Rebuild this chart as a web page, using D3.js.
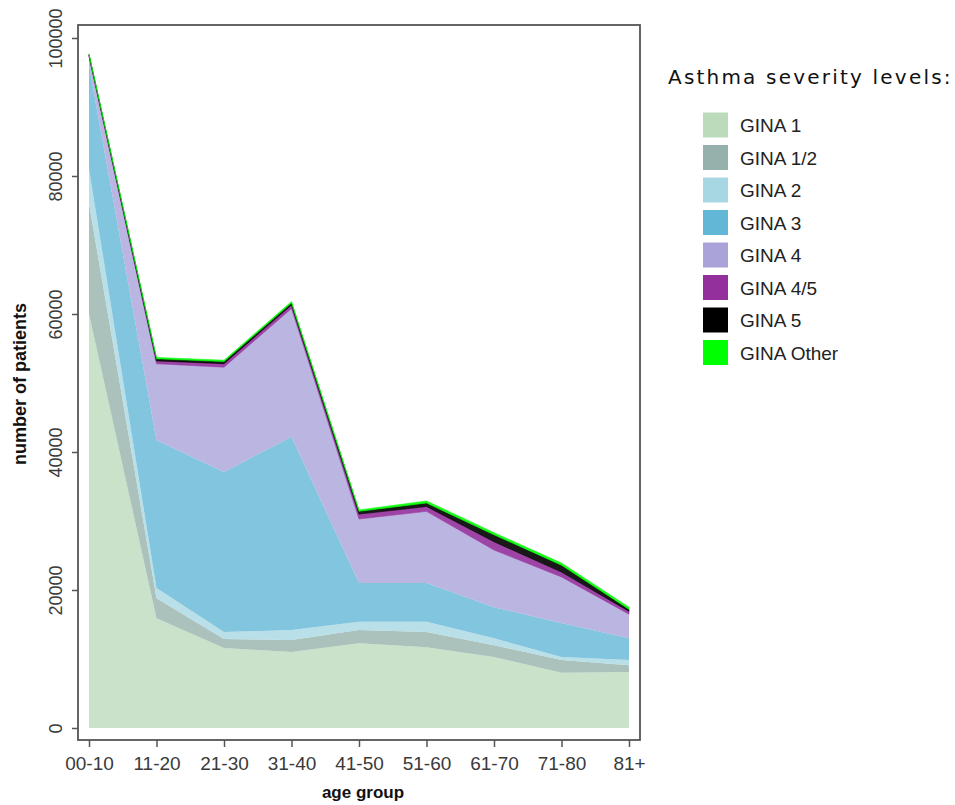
<!DOCTYPE html>
<html>
<head>
<meta charset="utf-8">
<script src="https://cdn.jsdelivr.net/npm/d3@7"></script>
<style>
  body { margin: 0; background: #fff; }
  svg { display: block; }
</style>
</head>
<body>
<script>
// age groups on the x axis
var ageGroups = ["00-10", "11-20", "21-30", "31-40", "41-50", "51-60", "61-70", "71-80", "81+"];

// patients per severity level
var gina1     = [60000, 15900, 11600, 11000, 12300, 11700, 10300, 8000, 8100];
var gina12    = [16000, 2900, 1300, 1750, 1900, 2200, 1700, 1850, 1000];
var gina2     = [5000, 1500, 1000, 1450, 1200, 1500, 1000, 450, 750];
var gina3     = [15000, 21400, 23200, 28000, 5600, 5600, 4500, 4900, 3150];
var gina4     = [1300, 11100, 15200, 18600, 9300, 10400, 8300, 6700, 3500];
var gina45    = [200, 400, 500, 500, 700, 700, 1200, 700, 400];
var gina5     = [100, 300, 300, 300, 400, 500, 1000, 1000, 300];
var ginaOther = [100, 200, 200, 200, 200, 300, 300, 300, 300];

var levels = ["GINA 1", "GINA 1/2", "GINA 2", "GINA 3", "GINA 4", "GINA 4/5", "GINA 5", "GINA Other"];
var levelColors = ["#bcdbbb", "#96b1ab", "#a8d7e4", "#63b7d6", "#a9a3da", "#93309c", "#000000", "#00ff00"];
var yTicks = [0, 20000, 40000, 60000, 80000, 100000];

var seriesValues = [gina1, gina12, gina2, gina3, gina4, gina45, gina5, ginaOther];
var rows = ageGroups.map(function(g, i) {
  var r = {group: g};
  levels.forEach(function(l, j) { r[l] = seriesValues[j][i]; });
  return r;
});

var width = 955, height = 805;
var box = {left: 78, top: 25, right: 640, bottom: 740};

var svg = d3.select("body").append("svg")
  .attr("width", width)
  .attr("height", height);

var xScale = d3.scalePoint()
  .domain(ageGroups)
  .range([89, 629]);
var yScale = d3.scaleLinear()
  .domain([0, 100000])
  .range([728, 38]);

var color = d3.scaleOrdinal().domain(levels).range(levelColors);

var stack = d3.stack().keys(levels);
var layers = stack(rows);

var area = d3.area()
  .x(function(d) { return xScale(d.data.group); })
  .y0(function(d) { return yScale(d[0]); })
  .y1(function(d) { return yScale(d[1]); });

svg.append("g")
  .selectAll("path")
  .data(layers)
  .join("path")
    .attr("d", area)
    .attr("fill", function(d) { return color(d.key); })
    .attr("fill-opacity", function(d) { return d.index >= 5 ? 0.9 : 0.8; })
    .attr("stroke", function(d) { return d.index >= 5 ? color(d.key) : "none"; })
    .attr("stroke-width", 0.6);

// plot frame
svg.append("rect")
  .attr("x", box.left)
  .attr("y", box.top)
  .attr("width", box.right - box.left)
  .attr("height", box.bottom - box.top)
  .attr("fill", "none")
  .attr("stroke", "#555")
  .attr("stroke-width", 1.8);

var yAxis = d3.axisLeft(yScale).tickValues(yTicks).tickSize(6).tickFormat(d3.format("d"));
var gy = svg.append("g")
  .attr("transform", "translate(" + box.left + ",0)")
  .call(yAxis);
gy.select(".domain").remove();
gy.selectAll(".tick line").attr("stroke", "#555").attr("stroke-width", 1.5);
gy.selectAll(".tick text")
  .attr("x", null).attr("dy", null)
  .attr("transform", "translate(-16,0) rotate(-90)")
  .attr("text-anchor", "middle")
  .attr("fill", "#3a3a3a")
  .style("font-family", "Liberation Sans, Arial, sans-serif")
  .style("font-size", "18px");

var xAxis = d3.axisBottom(xScale).tickSize(7);
var gx = svg.append("g")
  .attr("transform", "translate(0," + box.bottom + ")")
  .call(xAxis);
gx.select(".domain").remove();
gx.selectAll(".tick line").attr("stroke", "#555").attr("stroke-width", 1.5);
gx.selectAll(".tick text")
  .attr("y", 17)
  .attr("fill", "#3a3a3a")
  .style("font-family", "Liberation Sans, Arial, sans-serif")
  .style("font-size", "19px");

svg.append("text")
  .attr("x", 363).attr("y", 798)
  .attr("text-anchor", "middle")
  .style("font-family", "Liberation Sans, Arial, sans-serif")
  .style("font-weight", "bold")
  .style("font-size", "17px")
  .attr("fill", "#111")
  .text("age group");

svg.append("text")
  .attr("transform", "translate(26,384) rotate(-90)")
  .attr("text-anchor", "middle")
  .style("font-family", "Liberation Sans, Arial, sans-serif")
  .style("font-weight", "bold")
  .style("font-size", "18px")
  .attr("fill", "#111")
  .text("number of patients");

// legend
svg.append("text")
  .attr("x", 668).attr("y", 84)
  .style("font-family", "DejaVu Sans, Verdana, sans-serif")
  .style("font-size", "20px")
  .style("letter-spacing", "2.2px")
  .attr("fill", "#111")
  .text("Asthma severity levels:");

var legend = svg.append("g")
  .selectAll("g")
  .data(levels)
  .join("g")
    .attr("transform", function(d, i) { return "translate(703," + (125 + i * 32.5) + ")"; });
legend.append("rect")
  .attr("x", 0).attr("y", -12.5)
  .attr("width", 25).attr("height", 25)
  .attr("fill", function(d) { return color(d); });
legend.append("text")
  .attr("x", 37).attr("y", 7)
  .style("font-family", "Liberation Sans, Arial, sans-serif")
  .style("font-size", "19px")
  .attr("fill", "#222")
  .text(function(d) { return d; });
</script>
</body>
</html>
